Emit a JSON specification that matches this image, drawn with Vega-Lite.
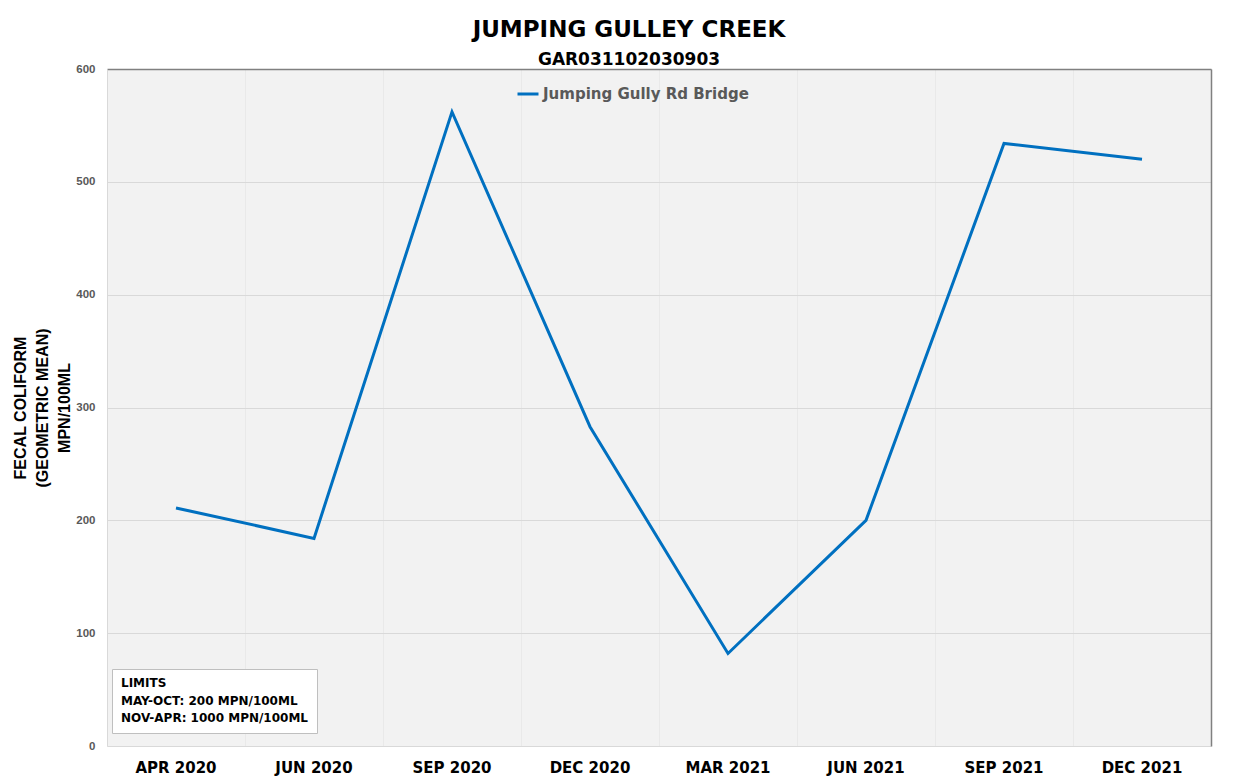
{
  "$schema": "https://vega.github.io/schema/vega-lite/v6.json",
  "width": 1104,
  "height": 677,
  "autosize": {"type": "none"},
  "padding": {"left": 107, "top": 69, "right": 40, "bottom": 33},
  "background": "white",
  "view": {"fill": "#f2f2f2", "stroke": null},
  "config": {"view": {"fill": "#f2f2f2", "stroke": null}, "font": "DejaVu Sans"},
  "title": {
    "text": "JUMPING GULLEY CREEK",
    "subtitle": "GAR031102030903",
    "anchor": "middle",
    "dx": -30,
    "offset": -5,
    "font": "DejaVu Sans",
    "fontSize": 23,
    "fontWeight": "bold",
    "color": "black",
    "subtitleFont": "DejaVu Sans",
    "subtitleFontSize": 17,
    "subtitleFontWeight": "bold",
    "subtitleColor": "black",
    "subtitlePadding": 10
  },
  "layer": [
    {
      "data": {"values": [
        {"period": "APR 2020", "value": 211},
        {"period": "JUN 2020", "value": 184},
        {"period": "SEP 2020", "value": 562},
        {"period": "DEC 2020", "value": 283},
        {"period": "MAR 2021", "value": 82},
        {"period": "JUN 2021", "value": 200},
        {"period": "SEP 2021", "value": 534},
        {"period": "DEC 2021", "value": 520}
      ]},
      "mark": {"type": "line", "strokeWidth": 3},
      "encoding": {
        "x": {
          "field": "period", "type": "ordinal", "sort": null,
          "scale": {"type": "band", "paddingInner": 0, "paddingOuter": 0},
          "axis": {"title": null, "labelAngle": 0, "labelFont": "DejaVu Sans", "labelFontSize": 15, "labelFontWeight": "bold", "labelColor": "black", "labelPadding": 14, "ticks": false, "domain": false, "grid": false}
        },
        "y": {
          "field": "value", "type": "quantitative",
          "scale": {"domain": [0, 600]},
          "axis": {
            "values": [0, 100, 200, 300, 400, 500, 600],
            "title": ["FECAL COLIFORM", "(GEOMETRIC MEAN)", "MPN/100ML"],
            "titleFont": "Liberation Sans", "titleFontSize": 16, "titleFontWeight": 900, "titleColor": "black", "titleLineHeight": 22, "titlePadding": 3,
            "grid": true, "gridColor": "#d9d9d9", "domainColor": "#d9d9d9", "ticks": false,
            "labelFont": "Liberation Sans", "labelFontSize": 11.5, "labelFontWeight": "bold", "labelColor": "#595959", "labelPadding": 12
          }
        },
        "color": {
          "datum": "Jumping Gully Rd Bridge",
          "scale": {"range": ["#0070c0"]},
          "legend": {"title": null, "orient": "none", "legendX": 409, "legendY": 13, "symbolType": "stroke", "symbolSize": 441, "symbolStrokeWidth": 3, "labelFont": "DejaVu Sans", "labelFontSize": 15, "labelFontWeight": "bold", "labelColor": "#595959", "labelOffset": 3, "labelLimit": 500}
        }
      }
    },
    {
      "data": {"values": [
        {"period": "APR 2020", "value": 211},
        {"period": "JUN 2020", "value": 184},
        {"period": "SEP 2020", "value": 562},
        {"period": "DEC 2020", "value": 283},
        {"period": "MAR 2021", "value": 82},
        {"period": "JUN 2021", "value": 200},
        {"period": "SEP 2021", "value": 534},
        {"period": "DEC 2021", "value": 520}
      ]},
      "mark": {"type": "point", "opacity": 0},
      "encoding": {
        "x": {
          "field": "period", "type": "ordinal", "sort": null,
          "scale": {"type": "band", "paddingInner": 0, "paddingOuter": 0},
          "axis": {"orient": "top", "title": null, "labels": false, "ticks": false, "grid": true, "gridColor": "#e9e9e9", "bandPosition": 0, "domain": true, "domainColor": "#808080", "domainWidth": 1.5}
        },
        "y": {
          "field": "value", "type": "quantitative",
          "axis": {"orient": "right", "title": null, "labels": false, "ticks": false, "grid": false, "domain": true, "domainColor": "#808080", "domainWidth": 1.5}
        }
      }
    },
    {
      "data": {"values": [
        {"limit": "MAY-OCT: 200 MPN/100ML"},
        {"limit": "NOV-APR: 1000 MPN/100ML"}
      ]},
      "mark": {"type": "point", "opacity": 0},
      "encoding": {
        "shape": {
          "field": "limit", "type": "nominal", "sort": null,
          "legend": {
            "title": "LIMITS", "orient": "none", "legendX": 5, "legendY": 600,
            "fillColor": "white", "strokeColor": "#bfbfbf", "padding": 9,
            "symbolOpacity": 0, "symbolStrokeWidth": 0, "symbolSize": 0.01, "labelOffset": -12, "labelLimit": 400,
            "labelFont": "DejaVu Sans", "labelFontSize": 12, "labelFontWeight": "bold", "labelColor": "black",
            "titleFont": "DejaVu Sans", "titleFontSize": 12, "titleFontWeight": "bold", "titleColor": "black",
            "titlePadding": 5, "rowPadding": 5
          }
        }
      }
    }
  ],
  "resolve": {"axis": {"x": "independent", "y": "independent"}}
}
